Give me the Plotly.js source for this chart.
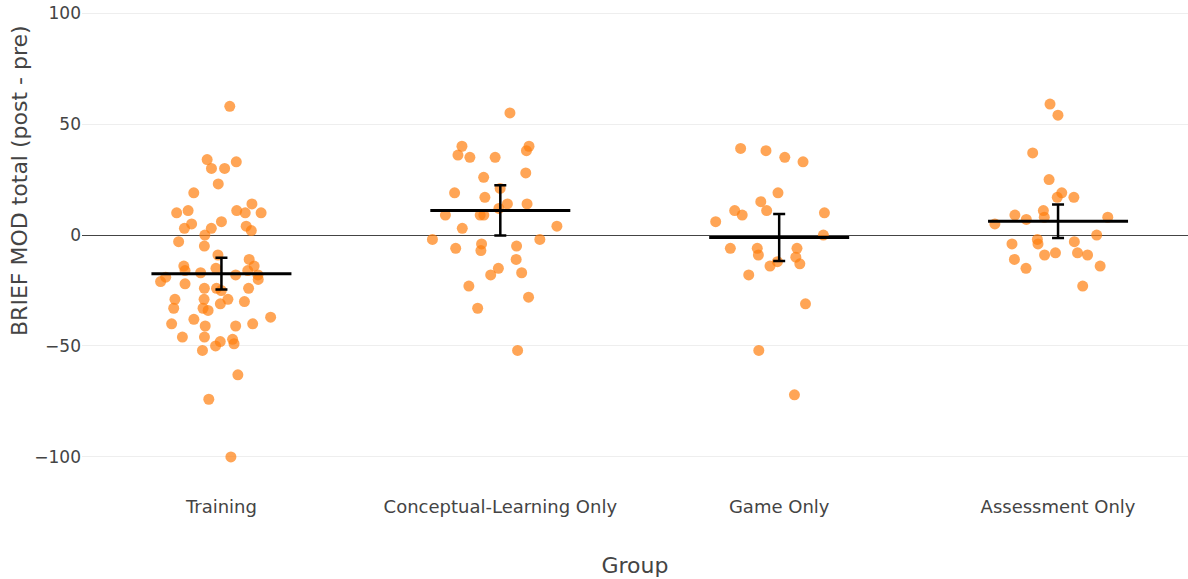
<!DOCTYPE html>
<html>
<head>
<meta charset="utf-8">
<script src="https://cdn.plot.ly/plotly-3.0.1.min.js"></script>
<style>
html,body{margin:0;padding:0;background:#fff;overflow:hidden;}
#chart{width:1188px;height:579px;}
</style>
</head>
<body>
<div id="chart"></div>
<script>
const categories = ["Training", "Conceptual-Learning Only", "Game Only", "Assessment Only"];

const trainingValues = [58, 33, 34, 30, 30, 23, 19, 14, 10, 11, 11, 10, 10, 5, 6, 3, 4, 2, 3, 0,
  -3, -5, -9, -11, -14, -14, -15, -16, -18, -17, -16, -18, -19, -20, -24, -21, -24, -24, -22, -25,
  -31, -29, -33, -34, -33, -30, -29, -29, -37, -38, -40, -41, -40, -41, -46, -48, -47, -46, -49,
  -52, -50, -63, -74, -100];
const conceptualValues = [55, 40, 40, 38, 36, 35, 35, 28, 26, 21, 19, 17, 14, 14, 12, 9, 9, 9, 4, 3,
  -2, -2, -6, -5, -4, -7, -11, -18, -17, -15, -23, -28, -33, -52];
const gameValues = [39, 38, 35, 33, 19, 15, 9, 11, 10, 11, 6, 0, -6, -6, -6, -9, -10, -12, -14, -13,
  -18, -31, -52, -72];
const assessmentValues = [59, 54, 37, 25, 17, 17, 19, 11, 7, 8, 9, 8, 5, 0, -2, -3, -4, -4, -8, -9,
  -9, -11, -8, -14, -15, -23];

const groupMeans = [-17.4, 11.1, -1.1, 6.2];
const groupCI = [7.1, 11.3, 10.6, 7.6];

const yTickVals = [-100, -50, 0, 50, 100];
const yTickText = ["\u2212100", "\u221250", "0", "50", "100"];

const seriesValues = [trainingValues, conceptualValues, gameValues, assessmentValues];

const FONT = "DejaVu Sans, Verdana, sans-serif";

const traces = seriesValues.map((vals, i) => ({
  type: "box",
  x: vals.map(() => categories[i]),
  y: vals,
  boxpoints: "all",
  jitter: 1,
  pointpos: 0,
  width: 0.5,
  fillcolor: "rgba(0,0,0,0)",
  line: {color: "rgba(0,0,0,0)", width: 0},
  marker: {color: "rgb(255,127,14)", opacity: 0.7, size: 11},
  showlegend: false,
  hoveron: "points"
}));

traces.push({
  type: "scatter",
  mode: "markers",
  x: categories,
  y: groupMeans,
  marker: {symbol: "line-ew", size: 100, color: "black", line: {color: "black", width: 3}},
  error_y: {type: "data", array: groupCI, visible: true, color: "black", thickness: 2.5, width: 6},
  showlegend: false
});

const layout = {
  width: 1188,
  height: 579,
  margin: {l: 82, r: 0, t: 0, b: 85},
  paper_bgcolor: "#fff",
  plot_bgcolor: "#fff",
  font: {family: FONT, color: "#444"},
  xaxis: {
    type: "category",
    categoryorder: "array",
    categoryarray: categories,
    range: [-0.5, 3.466],
    showgrid: false,
    zeroline: false,
    automargin: false,
    tickfont: {family: FONT, size: 18, color: "#444"},
    title: {text: "Group", standoff: 41, font: {family: FONT, size: 22, color: "#444"}}
  },
  yaxis: {
    range: [-116.7, 105.9],
    tickvals: yTickVals,
    ticktext: yTickText,
    showgrid: true,
    gridcolor: "#eee",
    zeroline: true,
    zerolinecolor: "#444",
    zerolinewidth: 1,
    automargin: false,
    tickfont: {family: FONT, size: 17, color: "#444"}
  },
  annotations: [{
    text: "BRIEF MOD total (post - pre)",
    xref: "paper", yref: "paper",
    x: -0.057, y: 0.6356,
    xanchor: "center", yanchor: "middle",
    textangle: -90,
    showarrow: false,
    font: {family: FONT, size: 22, color: "#444"}
  }]
};

Plotly.newPlot("chart", traces, layout, {displayModeBar: false, staticPlot: true});
</script>
</body>
</html>
